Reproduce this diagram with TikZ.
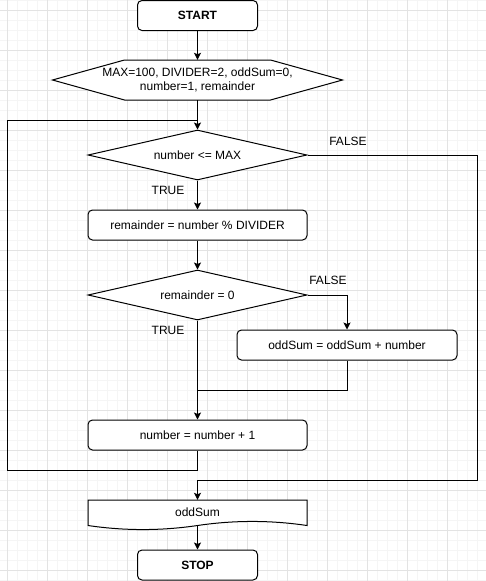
\documentclass[tikz,border=0pt]{standalone}
\usepackage{fontspec}
\setmainfont{Liberation Sans}
\usetikzlibrary{shapes.geometric,arrows.meta}
\begin{document}
\begin{tikzpicture}[x=1pt,y=-1pt,
  every node/.style={font=\fontsize{12}{14}\selectfont, text=black},
  line/.style={draw=black, line width=1pt},
  arr/.style={line, -{Stealth[length=7pt,width=7pt,inset=1.5pt]}},
  rbox/.style={draw=black, line width=1pt, rounded corners=4.5pt, minimum width=219pt, minimum height=30pt, inner sep=0pt, fill=white},
  term/.style={rbox, minimum width=120pt, font=\fontsize{12}{14}\selectfont\bfseries},
  dec/.style={diamond, draw=black, line width=1pt, aspect=4.38, minimum width=219pt, minimum height=50pt, inner sep=0pt, fill=white},
  plain/.style={inner sep=0pt},
  lbl/.style={inner sep=0pt},
  shapeline/.style={draw=black, line width=1pt, fill=white, line join=miter},
  minorgrid/.style={draw=gray!8, line width=0.8pt},
  majorgrid/.style={draw=gray!22, line width=0.8pt}]

\useasboundingbox (0,0) rectangle (486,581);
\fill[white] (0,0) rectangle (486,581);

% grid
\foreach \x in {7.5,17.5,...,477.5} \draw[minorgrid] (\x,0) -- (\x,581);
\foreach \y in {0,10,...,580} \draw[minorgrid] (0,\y) -- (486,\y);
\foreach \x in {7.5,47.5,...,447.5} \draw[majorgrid] (\x,0) -- (\x,581);
\foreach \y in {10,50,...,570} \draw[majorgrid] (0,\y) -- (486,\y);

% shapes drawn directly
\path[shapeline] (52.5,80) -- (124.5,60) -- (270.5,60) -- (342.5,80) -- (270.5,100) -- (124.5,100) -- cycle;
\path[shapeline] (88,500) -- (307,500) -- (307,525.5)
  .. controls (270.5,520.1) and (234,520.1) .. (197.5,525.5)
  .. controls (161,530.9) and (124.5,530.9) .. (88,525.5) -- cycle;

% nodes
\node[term] (start) at (197.5,15.5) {START};
\node[plain, minimum width=290pt, minimum height=40pt, align=center] (hex) at (197.5,80) {MAX=100, DIVIDER=2, oddSum=0,\\number=1, remainder};
\node[dec] (d1) at (197.5,155) {number <= MAX};
\node[rbox] (r1) at (197.5,225) {remainder = number \% DIVIDER};
\node[dec] (d2) at (197.5,295) {remainder = 0};
\node[rbox, minimum width=220pt] (r2) at (347,345) {oddSum = oddSum + number};
\node[rbox] (r3) at (197.5,435) {number = number + 1};
\node[plain, minimum width=219pt, minimum height=24pt] (doc) at (197.5,512) {oddSum};
\node[term] (stop) at (197.5,565) {STOP};

% labels
\node[lbl] (f1) at (348,141) {FALSE};
\node[lbl] (t1) at (168,190.5) {TRUE};
\node[lbl] (f2) at (328,280.5) {FALSE};
\node[lbl] (t2) at (168,330.5) {TRUE};

% helper coordinates
\coordinate (j1) at (197.5,120);
\coordinate (j2) at (197.5,390);
\coordinate (lp) at (7.5,470);
\coordinate (fr) at (477.5,480);
\coordinate (docb) at (197.5,525.5);

% connectors
\draw[arr] (start) -- (hex);
\draw[arr] (hex) -- (d1);
\draw[arr] (d1) -- (r1);
\draw[arr] (r1) -- (d2);
\draw[arr] (d2.east) -| (r2.north);
\draw[arr] (d2) -- (r3);
\draw[line] (r2.south) |- (j2);
\draw[line] (r3.south) |- (lp) |- (j1);
\draw[arr] (d1.east) -| (fr) -| (doc.north);
\draw[arr] (docb) -- (stop.north);
\end{tikzpicture}
\end{document}
